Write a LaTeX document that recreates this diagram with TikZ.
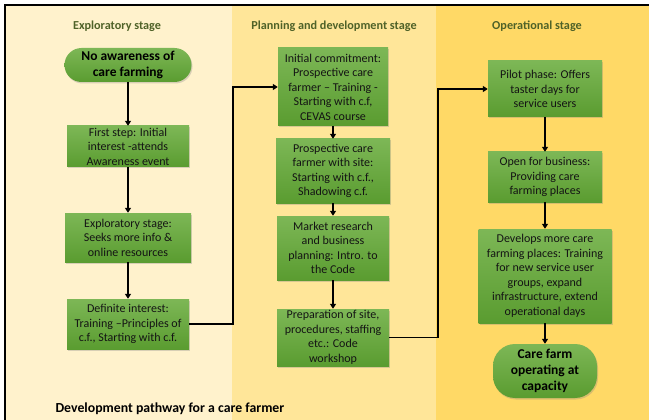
\documentclass[tikz,border=0pt]{standalone}
\usepackage{fontspec}
\setmainfont{Carlito}
\usetikzlibrary{arrows.meta,shadows}
\definecolor{colA}{HTML}{FFF2CC}
\definecolor{colB}{HTML}{FFE699}
\definecolor{colC}{HTML}{FFD966}
\definecolor{gtop}{HTML}{7DB756}
\definecolor{gbot}{HTML}{5A9C30}
\definecolor{titlegreen}{HTML}{4F6228}
\definecolor{txt}{HTML}{141414}
\tikzset{
  box/.style={rectangle, top color=gtop, bottom color=gbot, draw=none, align=center,
    text=txt, font=\fontsize{12}{14.5}\selectfont, inner sep=0.5pt,
    drop shadow={shadow xshift=1pt, shadow yshift=-1.5pt, opacity=0.3}},
  oval/.style={box, font=\bfseries\fontsize{13.5}{16.3}\selectfont, text=black},
  stagetitle/.style={font=\bfseries\fontsize{12.2}{14}\selectfont, text=titlegreen},
  arr/.style={line width=1.7pt, -{Triangle[length=5pt,width=6pt]}},
  link/.style={line width=1.7pt, -{Triangle[length=5pt,width=6pt]}, line join=miter}
}
\begin{document}
\begin{tikzpicture}[x=1pt,y=-1pt]
\useasboundingbox (0,0) rectangle (649,420);
% backgrounds
\fill[colA] (5,5) rectangle (232,420);
\fill[colB] (232,5) rectangle (436,420);
\fill[colC] (436,5) rectangle (649,420);
\draw[line width=1.8pt] (5,420) -- (5,5) -- (649,5);
% titles
\node[stagetitle] (t1) at (117,26) {Exploratory stage};
\node[stagetitle] (t2) at (334,26) {Planning and development stage};
\node[stagetitle] (t3) at (537,26) {Operational stage};
% column 1
\node[oval, minimum width=127pt, minimum height=34pt, rounded corners=17pt] (n0) at (128,65) {No awareness of\\care farming};
\node[box, minimum width=122pt, minimum height=41pt] (n1) at (128,146.5) {First step: Initial\\interest -attends\\Awareness event};
\node[box, minimum width=126pt, minimum height=49pt] (n2) at (128,237.5) {Exploratory stage:\\Seeks more info \&\\online resources};
\node[box, minimum width=122pt, minimum height=50pt] (n3) at (128,324) {Definite interest:\\Training –Principles of\\c.f., Starting with c.f.};
% column 2
\node[box, minimum width=110pt, minimum height=78pt] (a) at (333,87) {Initial commitment:\\Prospective care\\farmer – Training -\\Starting with c.f,\\CEVAS course};
\node[box, minimum width=114pt, minimum height=64pt] (b) at (333,171) {Prospective care\\farmer with site:\\Starting with c.f.,\\Shadowing c.f.};
\node[box, minimum width=112pt, minimum height=64pt] (c) at (333,248) {Market research\\and business\\planning: Intro. to\\the Code};
\node[box, minimum width=112pt, minimum height=57pt] (d) at (333,337.5) {Preparation of site,\\procedures, staffing\\etc.: Code\\workshop};
% column 3
\node[box, minimum width=114pt, minimum height=56pt] (p) at (545,89) {Pilot phase: Offers\\taster days for\\service users};
\node[box, minimum width=114pt, minimum height=50pt] (o) at (545,177) {Open for business:\\Providing care\\farming places};
\node[box, minimum width=133pt, minimum height=94pt] (e) at (545,276) {Develops more care\\farming places: Training\\for new service user\\groups, expand\\infrastructure, extend\\operational days};
\node[oval, minimum width=104pt, minimum height=54pt, rounded corners=22pt] (f) at (545,371) {Care farm\\operating at\\capacity};
% caption
\node[anchor=west, font=\bfseries\fontsize{13.8}{16}\selectfont] (cap) at (52,409) {Development pathway for a care farmer};
% arrows
\draw[arr] (n0) -- (n1);
\draw[arr] (n1) -- (n2);
\draw[arr] (n2) -- (n3);
\draw[arr] (a) -- (b);
\draw[arr] (b) -- (c);
\draw[arr] (c) -- (d);
\draw[arr] (p) -- (o);
\draw[arr] (o) -- (e);
\draw[arr] (e) -- (f);
\coordinate (j1) at (233,0);
\coordinate (j2) at (438,0);
\draw[link] (n3.east) -- (n3.east -| j1) -- (j1 |- a.west) -- (a.west);
\draw[link] (d.east) -- (d.east -| j2) -- (j2 |- p.west) -- (p.west);
\end{tikzpicture}
\end{document}
